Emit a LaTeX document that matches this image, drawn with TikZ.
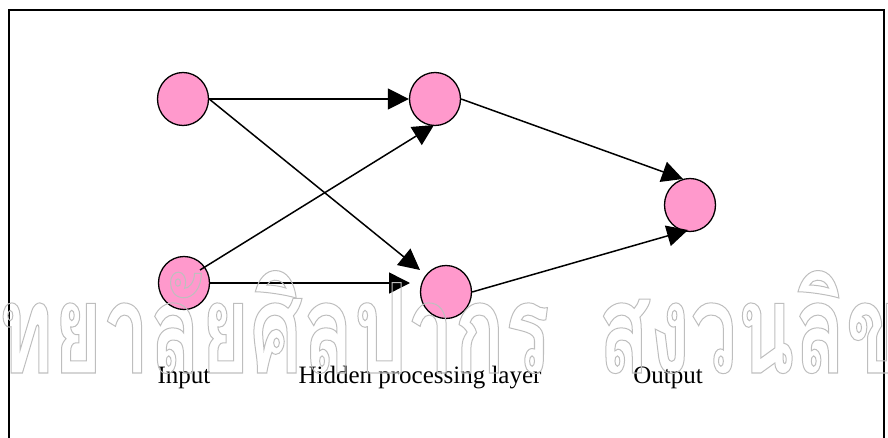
\documentclass[tikz,border=0pt]{standalone}
\usepackage{fontspec}
\setmainfont{Liberation Serif}
\newfontfamily\thaifont[Script=Thai,FakeStretch=0.67]{Loma}
\usetikzlibrary{arrows.meta,shapes.geometric,calc}
\definecolor{nodepink}{RGB}{255,153,204}
\definecolor{wmgray}{RGB}{190,190,190}
% outlined (stroked, unfilled) glyphs via the PDF text render mode
\newcommand\strokedtext[1]{\special{pdf:literal direct 1 Tr 1 w}#1\special{pdf:literal direct 0 Tr}}
\begin{document}
\begin{tikzpicture}[x=1pt,y=-1pt,
  neuron/.style={ellipse,draw=black,line width=1.3pt,fill=nodepink,
    minimum width=51pt,minimum height=53pt,inner sep=0pt},
  link/.style={line width=1.5pt,-{Triangle[length=21pt,width=21pt]}},
  caption/.style={font=\fontsize{25}{30}\selectfont,anchor=base,inner sep=0pt},
  watermark/.style={font=\thaifont\bfseries\fontsize{125}{125}\selectfont,text=wmgray,
    anchor=base west,inner sep=0pt}]
\useasboundingbox (0,0) rectangle (888,438);
\clip (0,0) rectangle (888,438);
% frame
\draw[line width=1.8pt] (9,460) -- (9,10) -- (884,10) -- (884,460);
% neurons
\node[neuron] (in1) at (183,99) {};
\node[neuron] (in2) at (184,283) {};
\node[neuron] (h1)  at (435,99) {};
\node[neuron] (h2)  at (446,292) {};
\node[neuron] (out) at (690,205) {};
% connections
\draw[link] (in1.east) -- (h1.west);
\draw[link] (in1.east) -- ($(h2.center)+(-26,-22)$);
\draw[link] ($(in2.center)+(16,-13)$) -- ($(h1.center)+(-1,26)$);
\draw[link] (in2.east) -- ($(h2.center)+(-36,-9)$);
\draw[link] (h1.east) -- ($(out.center)+(-7,-26)$);
\draw[link] (h2.east) -- ($(out.center)+(-2,25)$);
% layer captions
\node[caption] (lin)  at (184,383) {Input};
\node[caption] (lhid) at (420,383) {Hidden processing layer};
\node[caption] (lout) at (668,383) {Output};
% watermark
\node[watermark] (wm1) at (-2,373) {\strokedtext{ทยาลัยศิลปากร}};
\node[watermark] (wm2) at (598,373) {\strokedtext{สงวนลิข}};
\end{tikzpicture}
\end{document}
